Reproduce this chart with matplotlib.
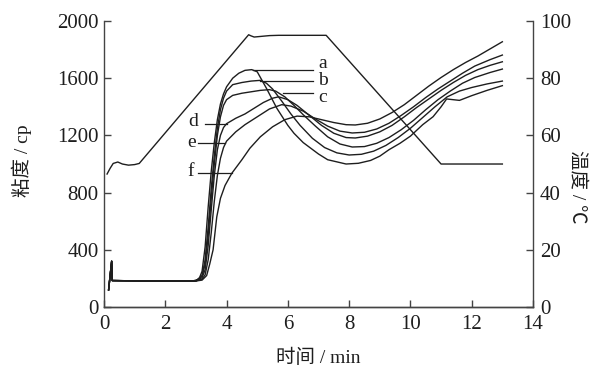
import numpy as np
import matplotlib
matplotlib.use("Agg")
import matplotlib.pyplot as plt

# viscosity curves (time in min, viscosity in cp)
base_t = [0.15, 0.25, 0.27, 1.0, 2.0, 2.9]
base_v = [120, 320, 185, 183, 181, 182]

t_a = base_t + [3.1, 3.2, 3.3, 3.4, 3.5, 3.6, 3.7, 3.8, 3.9, 4.0, 4.2, 4.4, 4.6, 4.82, 5.0, 5.3, 5.64, 6.0,
                6.2, 6.5, 7.0, 7.3, 7.9, 8.3, 8.7, 9.0, 9.3, 9.66, 10.0, 10.4, 10.74, 11.0, 11.18,
                11.6, 12.0, 12.5, 13.0]
v_a = base_v + [195, 250, 420, 700, 950, 1150, 1310, 1420, 1490, 1540, 1600, 1635, 1655, 1660, 1645, 1530, 1390,
                1270, 1215, 1150, 1070, 1030, 1000, 1005, 1025, 1055, 1100, 1145, 1195, 1275,
                1331, 1400, 1455, 1445, 1478, 1515, 1548]

t_b = base_t + [3.0, 3.2, 3.3, 3.4, 3.5, 3.6, 3.7, 3.8, 3.9, 4.0, 4.2, 4.5, 4.8, 5.1, 5.3, 5.5, 5.8, 6.1, 6.4,
                6.8, 7.2, 7.6, 8.0, 8.4, 8.8, 9.2, 9.6, 10.0, 10.4, 10.8, 11.2, 11.6, 12.0, 12.5, 13.0]
v_b = base_v + [183, 220, 330, 560, 830, 1060, 1250, 1380, 1460, 1510, 1555, 1570, 1580, 1585, 1565, 1525, 1440,
                1350, 1270, 1180, 1115, 1078, 1063, 1068, 1090, 1130, 1185, 1250, 1325, 1400, 1470, 1510, 1535,
                1560, 1580]

t_c = base_t + [3.0, 3.2, 3.3, 3.4, 3.5, 3.6, 3.7, 3.8, 3.9, 4.0, 4.2, 4.5, 4.8, 5.1, 5.4, 5.6, 5.9, 6.2, 6.5,
                6.9, 7.3, 7.7, 8.1, 8.5, 8.9, 9.3, 9.7, 10.1, 10.5, 10.9, 11.3, 11.7, 12.1, 12.6, 13.0]
v_c = base_v + [183, 215, 300, 500, 760, 1000, 1200, 1330, 1410, 1450, 1480, 1495, 1505, 1515, 1520, 1510, 1470,
                1410, 1345, 1265, 1190, 1140, 1119, 1122, 1145, 1185, 1240, 1305, 1380, 1450, 1510, 1565, 1605,
                1640, 1664]

t_d = base_t + [3.0, 3.2, 3.3, 3.4, 3.5, 3.6, 3.7, 3.8, 3.9, 4.0, 4.3, 4.6, 4.9, 5.2, 5.5, 5.7, 6.0, 6.3, 6.7,
                7.1, 7.5, 7.9, 8.2, 8.6, 9.0, 9.4, 9.8, 10.2, 10.6, 11.0, 11.4, 11.8, 12.2, 12.6, 13.0]
v_d = base_v + [183, 205, 260, 430, 680, 920, 1100, 1200, 1255, 1282, 1320, 1350, 1390, 1430, 1460, 1470, 1450,
                1410, 1340, 1270, 1215, 1185, 1182, 1195, 1225, 1270, 1330, 1395, 1455, 1515, 1570, 1620, 1660,
                1690, 1715]

t_e = base_t + [3.0, 3.2, 3.3, 3.4, 3.5, 3.6, 3.7, 3.8, 3.9, 4.0, 4.3, 4.6, 5.0, 5.4, 5.8, 6.1, 6.5, 6.9, 7.3,
                7.7, 8.1, 8.5, 8.9, 9.3, 9.7, 10.1, 10.5, 10.9, 11.3, 11.7, 12.1, 12.6, 13.0]
v_e = base_v + [182, 195, 225, 330, 520, 740, 920, 1040, 1115, 1160, 1225, 1275, 1330, 1385, 1415, 1405, 1370,
                1315, 1265, 1230, 1217, 1222, 1245, 1285, 1340, 1400, 1465, 1525, 1580, 1635, 1685, 1730, 1762]

t_f = base_t + [3.0, 3.2, 3.35, 3.45, 3.56, 3.68, 3.8, 3.95, 4.17, 4.5, 4.76, 5.1, 5.5, 5.9, 6.3, 6.7, 7.1, 7.5,
                7.9, 8.2, 8.6, 9.0, 9.4, 9.8, 10.2, 10.6, 11.0, 11.4, 11.8, 12.2, 12.6, 13.0]
v_f = base_v + [182, 188, 220, 300, 400, 630, 760, 850, 935, 1030, 1110, 1190, 1260, 1310, 1335, 1330, 1310,
                1290, 1275, 1273, 1285, 1315, 1360, 1415, 1480, 1545, 1605, 1660, 1710, 1755, 1805, 1855]

# temperature profile (right axis)
t_temp = [0.1, 0.2, 0.3, 0.45, 0.6, 0.8, 1.0, 1.15, 4.72, 4.8, 4.9, 5.1, 5.4, 5.7, 7.25, 11.0, 13.0]
temp = [46.5, 48.5, 50.2, 50.7, 50.0, 49.6, 49.8, 50.2, 95.2, 94.8, 94.4, 94.6, 94.9, 95.0, 95.0, 50.0, 50.0]

curves = [(t_a, v_a), (t_b, v_b), (t_c, v_c), (t_d, v_d), (t_e, v_e), (t_f, v_f)]

# curve labels: name, leader start/end (min), leader level (cp), text x, text y
right_labels = [("a", 4.85, 6.83, 1657, 7.0, 1700), ("b", 5.1, 6.83, 1580, 7.0, 1582),
                ("c", 5.84, 6.83, 1494, 7.0, 1465)]
left_labels = [("d", 3.3, 4.0, 1280, 2.9, 1300), ("e", 3.07, 3.95, 1145, 2.87, 1150),
               ("f", 3.07, 4.17, 935, 2.84, 945)]

serif = ["Liberation Serif", "Noto Sans CJK SC"]
col = "#1e1e1e"

fig = plt.figure(figsize=(5.97, 3.72), dpi=100)
ax = fig.add_axes([0.1742, 0.1747, 0.7186, 0.7688])
ax2 = ax.twinx()

for t, v in curves:
    ax.plot(t, v, color=col, lw=1.0)
ax2.plot(t_temp, temp, color=col, lw=1.0)

for name, x0, x1, y, xt, yt in right_labels:
    ax.plot([x0, x1], [y, y], color=col, lw=0.9)
    ax.text(xt, yt, name, fontsize=14, family=serif, ha="left", va="center", color=col)
for name, x0, x1, y, xt, yt in left_labels:
    ax.plot([x0, x1], [y, y], color=col, lw=0.9)
    ax.text(xt, yt, name, fontsize=14, family=serif, ha="center", va="center", color=col)

ax.set_xlim(0, 14)
ax.set_ylim(0, 2000)
ax2.set_ylim(0, 100)
ax.set_xticks(np.arange(0, 15, 2))
ax.set_yticks(np.arange(0, 2001, 400))
ax2.set_yticks(np.arange(0, 101, 20))

for a in (ax, ax2):
    a.spines["top"].set_visible(False)
    for s in a.spines.values():
        s.set_color("#444444")
        s.set_linewidth(1.0)
    a.tick_params(direction="in", length=5, width=1.0, color="#444444", labelsize=15)
    for lab in a.get_xticklabels() + a.get_yticklabels():
        lab.set_family(serif)
        lab.set_color(col)
ax.tick_params(axis="x", pad=6)
ax.tick_params(axis="y", pad=4)
ax2.tick_params(axis="y", pad=5)
ax2.spines["left"].set_visible(False)
ax.spines["right"].set_visible(False)

fig.text(22 / 597, 1 - 161 / 372, "粘度 / cp", family=serif, fontsize=14, rotation=90,
         ha="center", va="center", color=col)
fig.text(318 / 597, 1 - 358 / 372, "时间 / min", family=serif, fontsize=14,
         ha="center", va="center", color=col)
fig.text(578 / 597, 1 - 187 / 372, "温度 / ℃", family=serif, fontsize=14, rotation=-90,
         ha="center", va="center", color=col)

fig.savefig("out.png", dpi=100)
